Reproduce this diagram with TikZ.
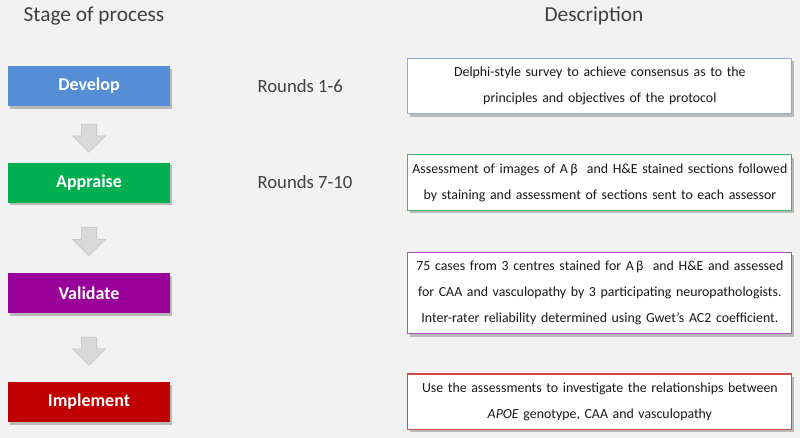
\documentclass[tikz,border=0pt]{standalone}
\usepackage{fontspec}
\setmainfont{Carlito}
\usetikzlibrary{positioning,shapes.arrows,shadows}

\definecolor{bggray}{HTML}{F2F2F2}
\definecolor{devblue}{HTML}{558ED5}
\definecolor{appgreen}{HTML}{00B050}
\definecolor{valpurple}{HTML}{990099}
\definecolor{impred}{HTML}{C00000}
\definecolor{linblue}{HTML}{8EAADB}
\definecolor{lingreen}{HTML}{3DB36B}
\definecolor{linpurple}{HTML}{B050C0}
\definecolor{linred}{HTML}{D04848}
\definecolor{darktext}{HTML}{404040}
\definecolor{arrowfill}{HTML}{D9D9D9}
\definecolor{arrowdraw}{HTML}{BFBFBF}

\begin{document}
\begin{tikzpicture}[
		  x=0.75pt, y=0.75pt,
		  node distance=42pt and 62pt,
		  boxshadow/.style={drop shadow={shadow xshift=1.8pt, shadow yshift=-2.2pt, fill=black!45, opacity=.55}},
		  stage/.style={fill=#1, text=white, font=\fontsize{13.5}{16}\selectfont\bfseries,
		    minimum width=121.5pt, minimum height=30pt, inner sep=0pt, boxshadow},
		  desc/.style={draw=#1, line width=0.9pt, fill=white, text=black!90, text width=282pt, align=center,
		    font=\fontsize{10.4}{19.5}\selectfont, inner xsep=3pt, inner ysep=6.5pt, boxshadow},
		  rounds/.style={text=darktext, font=\fontsize{14}{16}\selectfont},
		  heading/.style={text=darktext, font=\fontsize{16}{18}\selectfont},
		  downarrow/.style={single arrow, shape border rotate=270, fill=arrowfill, draw=arrowdraw,
		    minimum height=21pt, inner sep=5.6pt, single arrow head extend=6.4pt}
		]
		\useasboundingbox[fill=bggray] (0,0) rectangle (800,-438);
		\node[heading] (stagehead) at (94,-16) {Stage of process};
		\node[heading] (deschead) at (594,-16) {Description};
		% stages
		\node[stage=devblue] (develop) at (89,-86) {Develop};
		\node[stage=appgreen, below=42pt of develop] (appraise) {Appraise};
		\node[stage=valpurple, below=52.5pt of appraise] (validate) {Validate};
		\node[stage=impred, below=51pt of validate] (implement) {Implement};
		\path (develop) -- (appraise) node[midway, downarrow] (arrA) {}
			(appraise) -- (validate) node[midway, downarrow] (arrB) {}
			(validate) -- (implement) node[midway, downarrow] (arrC) {};
		% rounds
		\node[rounds, right=62pt of develop] (roundsA) {Rounds 1-6};
		\node[rounds, right=62pt of appraise] (roundsB) {Rounds 7-10};
		% descriptions
		\node[desc=linblue, right=177.75pt of develop] (descA)
			{Delphi-style survey to achieve consensus as to the\\ principles and objectives of the protocol};
		\node[desc=lingreen, right=177.75pt of appraise] (descB)
			{Assessment of images of A\,β\ \ and H\&E stained sections followed\\ by staining and assessment of sections sent to each assessor};
		\node[desc=linpurple, right=177.75pt of validate] (descC)
			{75 cases from 3 centres stained for A\,β\ \ and H\&E and assessed\\ for CAA and vasculopathy by 3 participating neuropathologists.\\ Inter-rater reliability determined using Gwet’s AC2 coefficient.};
		\node[desc=linred, right=177.75pt of implement] (descD)
			{Use the assessments to investigate the relationships between\\ \textit{APOE} genotype, CAA and vasculopathy};
		\end{tikzpicture}
\end{document}
